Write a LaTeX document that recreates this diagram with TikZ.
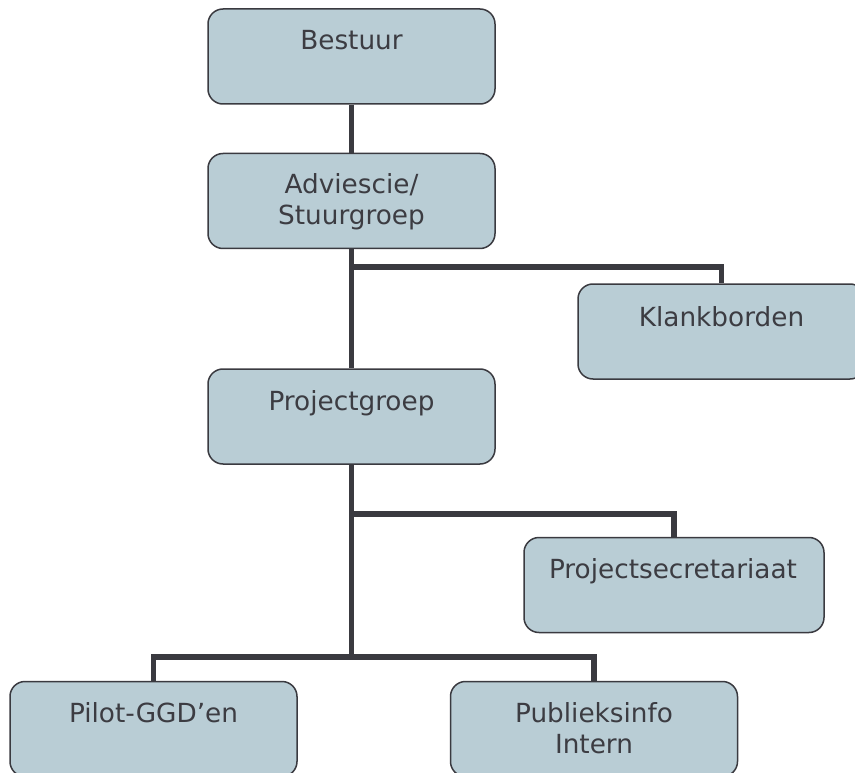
\documentclass[tikz,border=0pt]{standalone}
\usepackage{fontspec}
\setmainfont{DejaVu Sans}
\definecolor{boxfill}{RGB}{185,205,213}
\definecolor{boxline}{RGB}{58,58,64}
\definecolor{txt}{RGB}{60,60,66}
\begin{document}
\begin{tikzpicture}[x=1pt,y=-1pt,
  orgbox/.style={draw=boxline, fill=boxfill, line width=1.5pt, rounded corners=15pt,
    minimum width=287pt, minimum height=95pt, inner sep=0pt},
  lbl/.style={text=txt, font=\fontsize{26.3}{31}\selectfont, align=center, anchor=base, inner sep=0pt},
  conn/.style={draw=boxline, line width=5.5pt, line join=miter}]
\useasboundingbox (0,0) rectangle (855,773);
% boxes
\node[orgbox] (bestuur) at (351.5,56.5) {};
\node[orgbox] (advies) at (351.5,201) {};
\node[orgbox] (klank) at (721.5,331.5) {};
\node[orgbox] (proj) at (351.5,416.5) {};
\node[orgbox, minimum width=300pt] (secr) at (674,585) {};
\node[orgbox] (pilot) at (153.5,729) {};
\node[orgbox] (publ) at (594,729) {};
% labels (base anchor = baseline of last line)
\node[lbl] (tbestuur) at (351.5,50) {Bestuur};
\node[lbl] (tadvies) at (351.5,225) {Adviescie/\\Stuurgroep};
\node[lbl] (tklank) at (721.5,326) {Klankborden};
\node[lbl] (tproj) at (351.5,410) {Projectgroep};
\node[lbl] (tsecr) at (673,578) {Projectsecretariaat};
\node[lbl] (tpilot) at (153.5,722) {Pilot-GGD’en};
\node[lbl] (tpubl) at (594,753) {Publieksinfo\\Intern};
% connectors
\draw[conn] (bestuur.south) -- (advies.north);
\draw[conn] (advies.south) -- (proj.north);
\coordinate (j1) at (351.5,267);
\draw[conn] (j1) -| (klank.north);
\coordinate (j2) at (351.5,514);
\coordinate (j3) at (351.5,657);
\draw[conn] (proj.south) -- (j3);
\draw[conn] (j2) -| (secr.north);
\draw[conn] (pilot.north) |- (j3) -| (publ.north);
\end{tikzpicture}
\end{document}
